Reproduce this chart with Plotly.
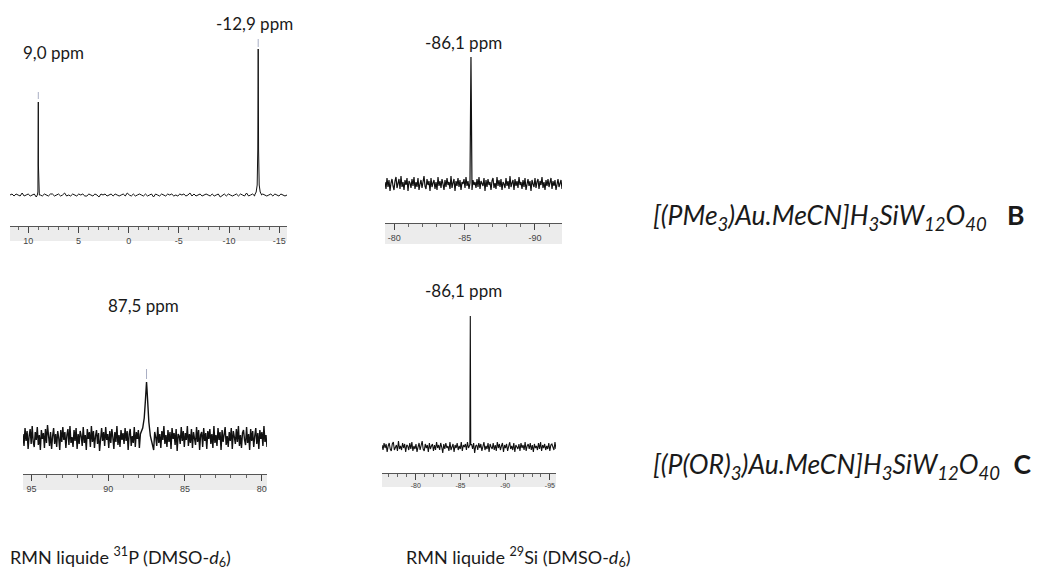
import numpy as np
import plotly.graph_objects as go

# ---------------- data ----------------
# Panel 1: 31P NMR of B (ppm axis, reversed)
p1_range = [11.82, -15.77]
p1_ticks = [10, 5, 0, -5, -10, -15]
p1_ticklabels = ["10", "5", "0", "-5", "-10", "-15"]
p1_noise = [0, 1, -1, 1, 0, -1, 2, -1, 0, 1, -1, 0, 1, -2, 1, 0, -1, 1, 0, -1, 1, 1, -1, 0, 1, -1, 0, 2, -1, 0,
            -1, 1, 0, -1, 1, 0, 1, -1, -1, 1, 0, -1, 1, 0, -2, 1, 0, 1, -1, 0, 1, -1, 1, 0, -1, 0, 1, -1, 2, 0,
            -1, 1, -1, 0, 1, 0, -1, 1, -1, 0, 1, -2, 1, 0, -1, 1, 0, -1, 1, 0, 1, -1, 0, -1, 1, 0, 1, -1, 0, 2,
            -1, 1, -1, 0, 1, -1, 0, 1, 0, -1, 1, -1, 0, 1, -2, 0, 1, -1, 1, 0, -1, 0, 1, -1, 1, 0, -1, 2, -1, 0,
            1, -1, 0, 1, -1, 1, 0, -1, 0, 1, -1, 1, 0, -1, 1, 0, -1, 0]
p1_peaks_ppm = [[9.1, 9.04, 9.01, 9.0, 8.99, 8.96, 8.9],
                [-12.55, -12.7, -12.8, -12.86, -12.9, -12.94, -13.0, -13.1, -13.25]]
p1_peaks_int = [[0, 3, 30, 93, 30, 3, 0],
                [0, 3, 10, 45, 146, 45, 10, 3, 0]]
p1_marks_ppm = [9.0, -12.9]
p1_marks_int = [[96, 103], [148, 156]]

# Panel 2: 29Si NMR of B
p2_range = [-79.34, -91.92]
p2_ticks = [-80, -85, -90]
p2_ticklabels = ["-80", "-85", "-90"]
p2_noise = [2, -5, 6, -3, 4, -7, 1, 5, -2, -6, 3, 7, -4, 0, 5, -5, 8, -3, 2, -6, 4, -1, 6, -7, 3, 1, -4, 5, -2, 7,
            -5, 2, -3, 6, -6, 0, 4, -4, 3, 8, -2, -5, 5, -1, 3, -7, 6, -3, 1, 4, -5, 2, -6, 7, -2, 3, -4, 5, 0, -6,
            4, -3, 6, -1, 2, -5, 8, -4, 1, 5, -7, 3, -2, 6, -3, 4, -6, 2, 0, 5, -4, 7, -2, 3, -5, 1, 6, -6, 4, -1,
            2, -4, 5, -3, 7, -5, 3, 0, -2, 6, -7, 4, -3, 5, -1, 2, -6, 3, 6, -4, 1, -5, 7, -2, 4, -3, 5, -6, 2, 0,
            -4, 6, -2, 3, -5, 8, -3, 1, 4, -6, 5, -2, 3, -4, 7, -1, 2, -5, 4, -3, 6, -6, 1, 5, -2, 3, -7, 4, 0, -3,
            6, -4, 2, 5, -5, 3, -1, 7, -4, 2, -6, 4, -2, 5, -3, 1, 6, -5, 3, -2, 4, -6, 2, 5, -3, 0, 4, -5]
p2_peaks_ppm = [[-85.38, -85.45, -85.52]]
p2_peaks_int = [[1, 127, 1]]

# Panel 3: 31P NMR of C
p3_range = [95.55, 79.65]
p3_ticks = [95, 90, 85, 80]
p3_ticklabels = ["95", "90", "85", "80"]
p3_noise = [4, -8, 10, -3, 7, -11, 2, 9, -6, 12, -4, -9, 6, -2, 11, -7, 3, -12, 8, -1,
            5, -10, 9, -5, 13, -3, -8, 6, -11, 2, 10, -6, 4, -9, 7, 0, -12, 8, -4, 11,
            -2, 6, -10, 3, 9, -7, 12, -5, 1, -9, 8, -3, 10, -11, 4, -6, 7, 2, -8, 11,
            -5, 3, -12, 9, -1, 6, -9, 12, -4, 7, -10, 2, 8, -6, 5, -13, 4, 10, -3, 6,
            -8, 11, -2, 4, -10, 7, -5, 9, 1, -11, 6, -4, 12, -7, 3, -9, 8, -2, 5, -6,
            10, -3, 7, -12, 4, 9, -8, 2, -5, 11, -9, 6, -1, 8, -10, 3, 13, -6, 5, -4,
            7, -11, 2, 10, -7, 5, -3, 9, -12, 6, 1, -8, 11, -5, 4, -10, 7, -2, 12, -6,
            3, -9, 8, -4, 6, -11, 10, -1, 5, -7, 9, -13, 4, 2, -6, 11, -3, 7, -9, 5,
            -2, 12, -8, 4, -5, 9, -10, 6, 0, -7, 11, -4, 8, -12, 3, 6, -9, 10, -3, 5,
            -11, 7, -1, 9, -6, 4, -10, 12, -5, 3, -8, 10, -2, 6, -12, 8, -4, 5, 11, -7,
            2, -9, 6, -3, 10, -11, 7, 1, -6, 9, -4, 12, -8, 3, -10, 5, 8, -2, -7, 11,
            -5, 4, -12, 9, -3, 7, -9, 2, 10, -6, 5, -11, 8, -1, 6, -8, 12, -4, 3, -9]
p3_peaks_ppm = [[87.9, 87.75, 87.65, 87.58, 87.53, 87.5, 87.47, 87.42, 87.35, 87.25, 87.1]]
p3_peaks_int = [[4, 10, 20, 36, 50, 56, 49, 34, 16, 2, -8]]
p3_marks_ppm = [87.5]
p3_marks_int = [[59, 69]]

# Panel 4: 29Si NMR of C
p4_range = [-76.23, -95.68]
p4_ticks = [-80, -85, -90, -95]
p4_ticklabels = ["-80", "-85", "-90", "-95"]
p4_noise = [2, -3, 4, -1, 3, -5, 1, 4, -2, -4, 3, 5, -3, 0, 2, -4, 6, -2, 1, -3,
            4, -1, 3, -5, 2, 1, -3, 4, -2, 5, -4, 1, -2, 3, -5, 0, 4, -3, 2, 6,
            -2, -4, 3, -1, 2, -5, 4, -2, 1, 3, -4, 2, -3, 5, -1, 2, -3, 4, 0, -6,
            3, -2, 4, -1, 1, -4, 5, -3, 0, 3, -5, 2, -1, 4, -3, 1, -2, 5, -4, 2,
            0, 3, -3, 5, -1, 2, -4, 3, -2, 4, -6, 1, 2, -3, 4, -1, 3, -4, 2, 5,
            -3, 1, -2, 4, -5, 3, 0, -2, 4, -3, 2, -4, 5, -1, 3, -3, 1, 4, -5, 2,
            -1, 3, -4, 2, 5, -2, 1, -3, 4, -5, 2, 0, -2, 3, -4, 4, -1, 2, -3, 5,
            -4, 1, 3, -2, 4, -3, 2, -5, 3, -1, 1, -3, 4, -2, 5, -4, 2, -1, 3, -3,
            1, -2, 4, -4, 2, 3, -1, -3, 5, -2]
p4_peaks_ppm = [[-86.05, -86.1, -86.15]]
p4_peaks_int = [[2, 131, 2]]

peak_labels = ["9,0 ppm", "-12,9 ppm", "-86,1 ppm", "87,5 ppm", "-86,1 ppm"]
compound_B = "<i>[(PMe<sub>3</sub>)Au.MeCN]H<sub>3</sub>SiW<sub>12</sub>O<sub>40</sub></i>   <b>B</b>"
compound_C = "<i>[(P(OR)<sub>3</sub>)Au.MeCN]H<sub>3</sub>SiW<sub>12</sub>O<sub>40</sub></i>  <b>C</b>"
caption_P = "RMN liquide <sup>31</sup>P (DMSO-<i>d</i><sub>6</sub>)"
caption_Si = "RMN liquide <sup>29</sup>Si (DMSO-<i>d</i><sub>6</sub>)"

# ---------------- helpers ----------------
OFF = 8                  # page body margin
W, H = 1045 - OFF, 576 - OFF


def px(x):
    return (x - OFF) / W


def py(y):
    return 1 - (y - OFF) / H


def build(rng, noise, pk_x, pk_y):
    x = np.linspace(rng[0], rng[1], len(noise))
    y = np.array(noise, float)
    keep = np.ones(len(x), bool)
    for g in pk_x:
        keep &= ~((x >= min(g)) & (x <= max(g)))
    xs = np.concatenate([x[keep]] + [np.array(g, float) for g in pk_x])
    ys = np.concatenate([y[keep]] + [np.array(g, float) for g in pk_y])
    order = np.argsort(-xs)
    return xs[order], ys[order]


fig = go.Figure()

panels = [
    dict(rng=p1_range, noise=p1_noise, pkx=p1_peaks_ppm, pky=p1_peaks_int, ticks=p1_ticks, tl=p1_ticklabels,
         xd=[10, 287], yd=[226, 30], base=195, band=241, tfs=9, lw=1.0),
    dict(rng=p2_range, noise=p2_noise, pkx=p2_peaks_ppm, pky=p2_peaks_int, ticks=p2_ticks, tl=p2_ticklabels,
         xd=[385, 562], yd=[223, 40], base=184, band=244, tfs=9, lw=1.2),
    dict(rng=p3_range, noise=p3_noise, pkx=p3_peaks_ppm, pky=p3_peaks_int, ticks=p3_ticks, tl=p3_ticklabels,
         xd=[23, 267], yd=[474, 330], base=438, band=490, tfs=9, lw=1.4),
    dict(rng=p4_range, noise=p4_noise, pkx=p4_peaks_ppm, pky=p4_peaks_int, ticks=p4_ticks, tl=p4_ticklabels,
         xd=[382, 556], yd=[473, 300], base=447, band=487, tfs=7, lw=1.1),
]

layout_axes = {}
shapes = []
for i, p in enumerate(panels, start=1):
    xs, ys = build(p["rng"], p["noise"], p["pkx"], p["pky"])
    xa = "x" if i == 1 else f"x{i}"
    ya = "y" if i == 1 else f"y{i}"
    fig.add_trace(go.Scatter(x=xs, y=ys, mode="lines", xaxis=xa, yaxis=ya,
                             line=dict(color="#111111", width=p["lw"]), hoverinfo="skip"))
    bottom_px, top_px = p["yd"]
    ybot = -(bottom_px - p["base"])
    ytop = p["base"] - top_px
    xkey = "xaxis" if i == 1 else f"xaxis{i}"
    ykey = "yaxis" if i == 1 else f"yaxis{i}"
    layout_axes[xkey] = dict(
        domain=[px(p["xd"][0]), px(p["xd"][1])], anchor=ya, range=p["rng"],
        showline=True, linecolor="#555555", linewidth=1, showgrid=False, zeroline=False,
        ticks="outside", ticklen=6, tickcolor="#444444", tickwidth=1,
        tickvals=p["ticks"], ticktext=p["tl"],
        tickfont=dict(family="Liberation Sans, Arial", size=p["tfs"], color="#444444"),
        minor=dict(dtick=1, tick0=0, ticks="outside", ticklen=3, tickcolor="#666666", showgrid=False),
        fixedrange=True,
    )
    layout_axes[ykey] = dict(domain=[py(bottom_px), py(top_px)], anchor=xa, range=[ybot, ytop],
                             visible=False, showgrid=False, zeroline=False, fixedrange=True)
    shapes.append(dict(type="rect", xref=f"{xa} domain", yref="paper", x0=0, x1=1,
                       y0=py(p["band"]), y1=py(bottom_px), fillcolor="#ececec",
                       line=dict(width=0), layer="below"))

# peak position markers
mx, my = [], []
for m, v in zip(p1_marks_ppm, p1_marks_int):
    mx += [m, m, None]
    my += [v[0], v[1], None]
fig.add_trace(go.Scatter(x=mx, y=my, mode="lines", xaxis="x", yaxis="y",
                         line=dict(color="#a9aec4", width=1), hoverinfo="skip"))
mx, my = [], []
for m, v in zip(p3_marks_ppm, p3_marks_int):
    mx += [m, m, None]
    my += [v[0], v[1], None]
fig.add_trace(go.Scatter(x=mx, y=my, mode="lines", xaxis="x3", yaxis="y3",
                         line=dict(color="#a9aec4", width=1), hoverinfo="skip"))

lab_font = dict(family="Lato, Carlito, Calibri, sans-serif", size=17, color="#1a1a1a")
label_pos = [(53, 53), (254, 24), (463, 42), (143, 305), (463, 291)]
annotations = []
for t, (lx, ly) in zip(peak_labels, label_pos):
    annotations.append(dict(text=t, x=px(lx), y=py(ly), xref="paper", yref="paper",
                            showarrow=False, xanchor="center", yanchor="middle", font=lab_font))

big_font = dict(family="Lato, Carlito, Calibri, sans-serif", size=26.5, color="#1a1a1a")
annotations.append(dict(text=compound_B, x=px(651), y=py(217), xref="paper", yref="paper",
                        showarrow=False, xanchor="left", yanchor="middle", font=big_font))
annotations.append(dict(text=compound_C, x=px(651), y=py(466), xref="paper", yref="paper",
                        showarrow=False, xanchor="left", yanchor="middle", font=big_font))
cap_font = dict(family="Lato, Carlito, Calibri, sans-serif", size=18, color="#1a1a1a")
annotations.append(dict(text=caption_P, x=px(8), y=py(557), xref="paper", yref="paper",
                        showarrow=False, xanchor="left", yanchor="middle", font=cap_font))
annotations.append(dict(text=caption_Si, x=px(404), y=py(557), xref="paper", yref="paper",
                        showarrow=False, xanchor="left", yanchor="middle", font=cap_font))

fig.update_layout(
    width=W, height=H, margin=dict(l=0, r=0, t=0, b=0),
    paper_bgcolor="white", plot_bgcolor="white", showlegend=False,
    shapes=shapes, annotations=annotations, **layout_axes,
)

fig.write_html("out.html", config={"displayModeBar": False})
